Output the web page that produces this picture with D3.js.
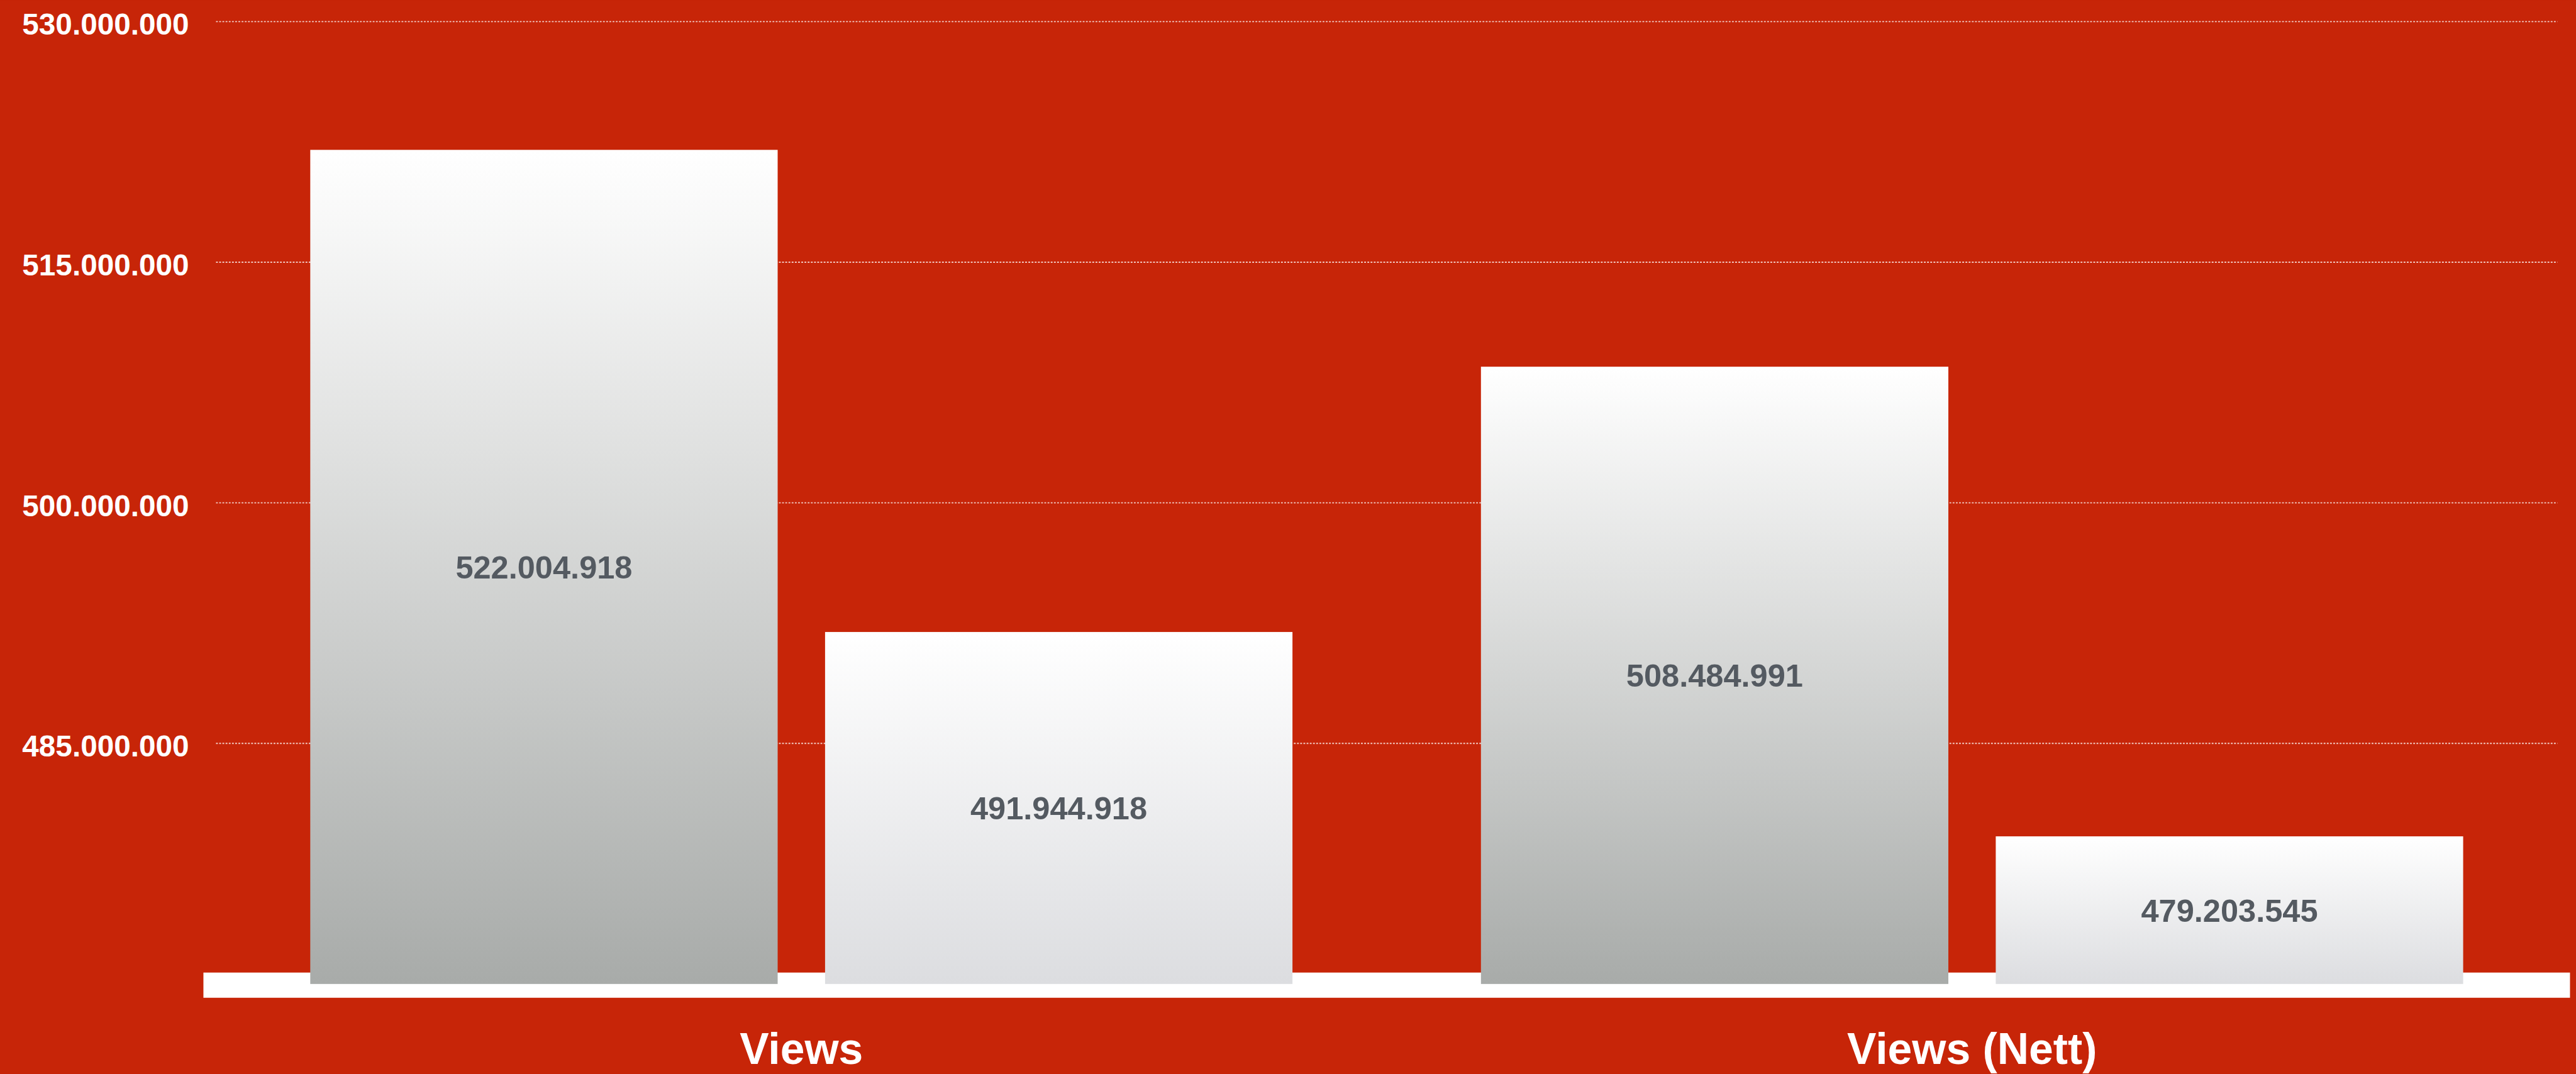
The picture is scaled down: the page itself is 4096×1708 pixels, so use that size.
<!DOCTYPE html>
<html>
<head>
<meta charset="utf-8">
<script src="https://cdn.jsdelivr.net/npm/d3@7"></script>
<style>
  html, body { margin: 0; padding: 0; background: #c72508; overflow: hidden; }
  svg { display: block; }
</style>
</head>
<body>
<svg id="chart"></svg>
<script>
// ---- Data ----
const categories = ["Views", "Views (Nett)"];
const seriesNames = ["A", "B"];
const seriesA = [522004918, 508484991];
const seriesB = [491944918, 479203545];
const yTicks = [485000000, 500000000, 515000000, 530000000];
const yDomain = [470000000, 530000000];

// ---- Layout (reference pixel space, scaled via viewBox) ----
const W = 4293, H = 1790;
const svg = d3.select("#chart")
  .attr("width", 4096).attr("height", 1708)
  .attr("viewBox", `0 0 ${W} ${H}`);

const bg = "#c72508";
svg.append("rect").attr("width", W).attr("height", H).attr("fill", bg);

const font = "'Liberation Sans', Arial, Helvetica, sans-serif";
const locale = d3.formatLocale({ decimal: ",", thousands: ".", grouping: [3], currency: ["", ""] });
const fmt = locale.format(",d");

const x0 = d3.scaleBand().domain(categories).range([360, 4262]).paddingInner(0.161).paddingOuter(0.0805);
const x1 = d3.scaleBand().domain(seriesNames).range([0, x0.bandwidth()]).paddingInner(0.0921).paddingOuter(0);
const y = d3.scaleLinear().domain(yDomain).range([1640, 36]);

// gradients
const defs = svg.append("defs");
const gradA = defs.append("linearGradient").attr("id", "gA").attr("x1", 0).attr("y1", 0).attr("x2", 0).attr("y2", 1);
gradA.append("stop").attr("offset", "0%").attr("stop-color", "#ffffff");
gradA.append("stop").attr("offset", "100%").attr("stop-color", "#a8aba9");
const gradB = defs.append("linearGradient").attr("id", "gB").attr("x1", 0).attr("y1", 0).attr("x2", 0).attr("y2", 1);
gradB.append("stop").attr("offset", "0%").attr("stop-color", "#ffffff");
gradB.append("stop").attr("offset", "100%").attr("stop-color", "#dcdde0");

// gridlines
const [gx0, gx1] = x0.range();
svg.append("g").selectAll("line").data(yTicks).join("line")
  .attr("x1", gx0).attr("x2", gx1)
  .attr("y1", d => y(d)).attr("y2", d => y(d))
  .attr("stroke", "#ffffff").attr("stroke-opacity", 0.75)
  .attr("stroke-width", 2).attr("stroke-dasharray", "3,2.33");

// y tick labels
svg.append("g").selectAll("text").data(yTicks).join("text")
  .attr("x", 315).attr("y", d => y(d) + 22)
  .attr("text-anchor", "end")
  .attr("font-family", font).attr("font-weight", "bold").attr("font-size", 50)
  .attr("fill", "#ffffff")
  .text(d => fmt(d));

// baseline band
svg.append("rect")
  .attr("x", gx0 - 21).attr("width", (gx1 - gx0) + 42)
  .attr("y", y(yDomain[0]) - 19).attr("height", 42)
  .attr("fill", "#ffffff");

// bars
const rows = categories.map((c, i) => ({ cat: c, vals: [
  { s: "A", v: seriesA[i] }, { s: "B", v: seriesB[i] } ] }));

const groups = svg.append("g").selectAll("g").data(rows).join("g")
  .attr("transform", d => `translate(${x0(d.cat)},0)`);

groups.selectAll("rect").data(d => d.vals).join("rect")
  .attr("x", d => x1(d.s))
  .attr("width", x1.bandwidth())
  .attr("y", d => y(d.v))
  .attr("height", d => y(yDomain[0]) - y(d.v))
  .attr("fill", d => d.s === "A" ? "url(#gA)" : "url(#gB)");

groups.selectAll("text").data(d => d.vals).join("text")
  .attr("x", d => x1(d.s) + x1.bandwidth() / 2)
  .attr("y", d => (y(d.v) + y(yDomain[0])) / 2 + 19)
  .attr("text-anchor", "middle")
  .attr("font-family", font).attr("font-weight", "bold").attr("font-size", 53)
  .attr("fill", "#545a61")
  .text(d => fmt(d.v));

// x labels
svg.append("g").selectAll("text").data(categories).join("text")
  .attr("x", d => x0(d) + x0.bandwidth() / 2)
  .attr("y", 1773)
  .attr("text-anchor", "middle")
  .attr("font-family", font).attr("font-weight", "bold").attr("font-size", 73)
  .attr("fill", "#ffffff")
  .text(d => d);
</script>
</body>
</html>
